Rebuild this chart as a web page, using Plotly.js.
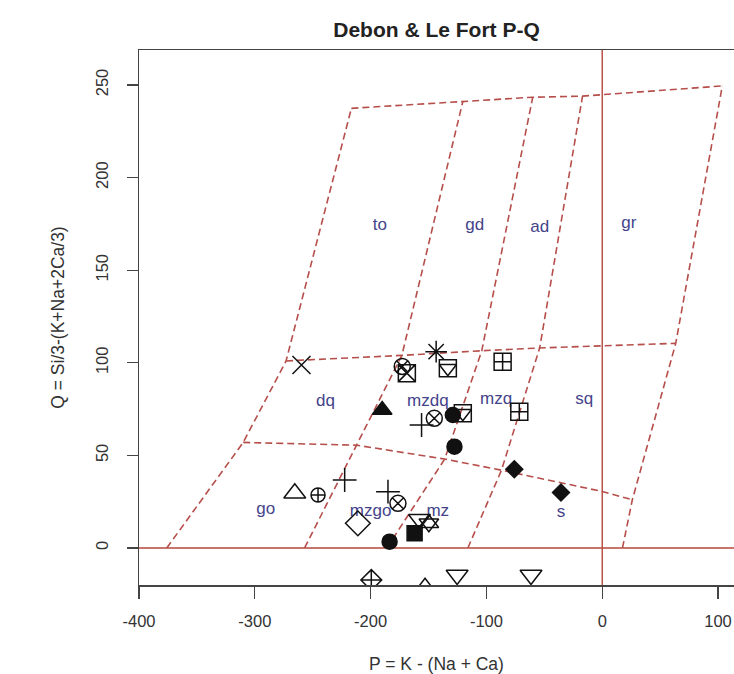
<!DOCTYPE html>
<html><head><meta charset="utf-8">
<script src="https://cdn.plot.ly/plotly-3.0.1.min.js"></script>
<style>html,body{margin:0;padding:0;background:#fff;}</style>
</head><body><div id="chart" style="width:734px;height:674px;"></div>
<script>
// ---- Field boundary lines (P, Q) ----
const leftP  = [-376, -310, -273, -216.6];
const leftQ  = [0, 57, 101, 237.4];
const l2P    = [-257, -212, -173, -120.4];
const l2Q    = [0, 55.5, 104, 241];
const l3P    = [-186, -136, -104, -60];
const l3Q    = [0, 48, 106.5, 243.4];
const l4P    = [-116, -87, -54, -17];
const l4Q    = [0, 42, 108, 244];
const rightP = [17.5, 26, 63.5, 103.7];
const rightQ = [0, 26, 110.5, 249.5];
const topP   = [-216.6, -120.4, -60, -17, 103.7];
const topQ   = [237.4, 241, 243.4, 244, 249.5];
const midP   = [-273, -173, -104, -54, 63.5];
const midQ   = [101, 104, 106.5, 108, 110.5];
const lowP   = [-310, -212, -136, -87, 0, 26];
const lowQ   = [57, 55.5, 48, 42, 30.5, 26];

// ---- Field labels ----
const fieldNames = ['to','gd','ad','gr','dq','mzdq','mzq','sq','go','mzgo','mz','s'];
const fieldP = [-192, -110, -54, 23, -239, -150.6, -91.6, -15.5, -290.5, -200, -142, -35.6];
const fieldQ = [174, 174, 173, 175, 79, 79, 80, 80, 20.5, 19.6, 19.6, 19];

// ---- Samples (P, Q) grouped by plotting symbol ----
const xThinP = [-259.7];            const xThinQ = [98.8];
const sqXP = [-168.7];              const sqXQ = [94.4];
const circXP = [-172.7, -145, -176.4]; const circXQ = [98, 70, 24.1];
const asterP = [-143.4];            const asterQ = [106];
const sqVP = [-133.3, -120.4];      const sqVQ = [97, 72.7];
const sqCrossP = [-86, -71.6];      const sqCrossQ = [100.6, 73.6];
const triFillP = [-190];            const triFillQ = [74.5];
const plusP = [-156, -222.4, -185]; const plusQ = [66.4, 36.7, 30.4];
const dotP = [-129, -127.6, -183.6]; const dotQ = [71.8, 54.7, 3.4];
const diaFillP = [-75.9, -35.6];    const diaFillQ = [42.5, 29.9];
const triOpenP = [-265.5, -153];    const triOpenQ = [29.5, -21.5];
const circCrossP = [-245.4];        const circCrossQ = [28.6];
const diaOpenP = [-211];            const diaOpenQ = [13.3];
const sqFillP = [-162];             const sqFillQ = [7.9];
const triDownP = [-157.8, -125.3, -61.5]; const triDownQ = [15.5, -14.6, -14.6];
const starP = [-149.7];             const starQ = [13.3];
const diaCrossP = [-199.4];         const diaCrossQ = [-17.3];

const ticksX = [-400, -300, -200, -100, 0, 100];
const tickTextX = ['-400', '-300', '-200', '-100', '0', '100'];
const ticksY = [0, 50, 100, 150, 200, 250];
const tickTextY = ['0', '50', '100', '150', '200', '250'];

const dashCol = '#b64f4b';
const solidCol = '#b5473d';
const ink = '#111111';
const FONT = 'Liberation Sans, Arial, sans-serif';

function dl(P, Q){
  return {x:P, y:Q, type:'scatter', mode:'lines', hoverinfo:'skip',
    line:{color:dashCol, width:1.6, dash:'7px,4px'}};
}
function mk(P, Q, symbol, size){
  return {x:P, y:Q, type:'scatter', mode:'markers', cliponaxis:true,
    marker:{symbol:symbol, size:size, color:ink, line:{color:ink, width:1.5}}};
}

const data = [
  dl(leftP,leftQ), dl(l2P,l2Q), dl(l3P,l3Q), dl(l4P,l4Q), dl(rightP,rightQ),
  dl(topP,topQ), dl(midP,midQ), dl(lowP,lowQ),
  {x:fieldP, y:fieldQ, text:fieldNames, type:'scatter', mode:'text',
   textfont:{family:FONT, size:17, color:'#44448a'}, hoverinfo:'skip'},
  mk(xThinP, xThinQ, 'x-thin-open', 18),
  mk(sqXP, sqXQ, 'square-x-open', 17),
  mk(circXP, circXQ, 'circle-x-open', 16),
  mk(asterP, asterQ, 'asterisk-open', 18),
  mk(sqVP, sqVQ, 'square-open', 17),
  mk(sqVP, sqVQ, 'triangle-down-open', 15),
  mk(sqCrossP, sqCrossQ, 'square-cross-open', 17),
  mk(triFillP, triFillQ, 'triangle-up', 17),
  mk(plusP, plusQ, 'cross-thin-open', 17),
  mk(dotP, dotQ, 'circle', 15),
  mk(diaFillP, diaFillQ, 'diamond', 13),
  mk(triOpenP, triOpenQ, 'triangle-up-open', 19),
  mk(circCrossP, circCrossQ, 'circle-cross-open', 14),
  mk(diaOpenP, diaOpenQ, 'diamond-open', 19),
  mk(sqFillP, sqFillQ, 'square', 15),
  mk(triDownP, triDownQ, 'triangle-down-open', 19),
  mk(starP, starQ, 'triangle-up-open', 17),
  mk(starP, starQ, 'triangle-down-open', 17),
  mk(diaCrossP, diaCrossQ, 'diamond-cross-open', 16)
];

const axisFont = {family:FONT, size:16.5, color:'#333'};
const titleFont = {family:FONT, size:17.5, color:'#333'};
const layout = {
  width:734, height:674,
  margin:{l:139, r:0, t:50, b:89},
  paper_bgcolor:'#ffffff', plot_bgcolor:'#ffffff',
  showlegend:false,
  title:{text:'<b>Debon & Le Fort P-Q</b>', font:{family:FONT, size:21, color:'#222'},
         x:0.5, xref:'paper', xanchor:'center', y:1-30/674, yref:'container', yanchor:'middle'},
  xaxis:{range:[-400, 113.8], tickvals:ticksX, ticktext:tickTextX, ticks:'outside', ticklen:12, tickwidth:1.3,
         tickcolor:'#444', showline:true, linecolor:'#444', linewidth:1.5, mirror:true,
         showgrid:false, zeroline:false, tickfont:axisFont, ticklabelstandoff:9,
         title:{text:'P = K - (Na + Ca)', font:titleFont, standoff:29}},
  yaxis:{range:[-20, 268.9], tickvals:ticksY, ticktext:tickTextY, ticks:'outside', ticklen:11, tickwidth:1.3,
         tickcolor:'#444', showline:true, linecolor:'#444', linewidth:1.5, mirror:false,
         showgrid:false, zeroline:false, tickfont:axisFont, tickangle:-90, ticklabelstandoff:12,
         title:{text:'Q = Si/3-(K+Na+2Ca/3)', font:titleFont, standoff:24}},
  shapes:[
    {type:'line', xref:'paper', x0:0, x1:1, yref:'y', y0:0, y1:0, layer:'below',
     line:{color:solidCol, width:1.4}},
    {type:'line', xref:'x', x0:0, x1:0, yref:'paper', y0:0, y1:1, layer:'below',
     line:{color:solidCol, width:1.4}}
  ]
};
Plotly.newPlot('chart', data, layout, {displayModeBar:false, staticPlot:true});
</script></body></html>
